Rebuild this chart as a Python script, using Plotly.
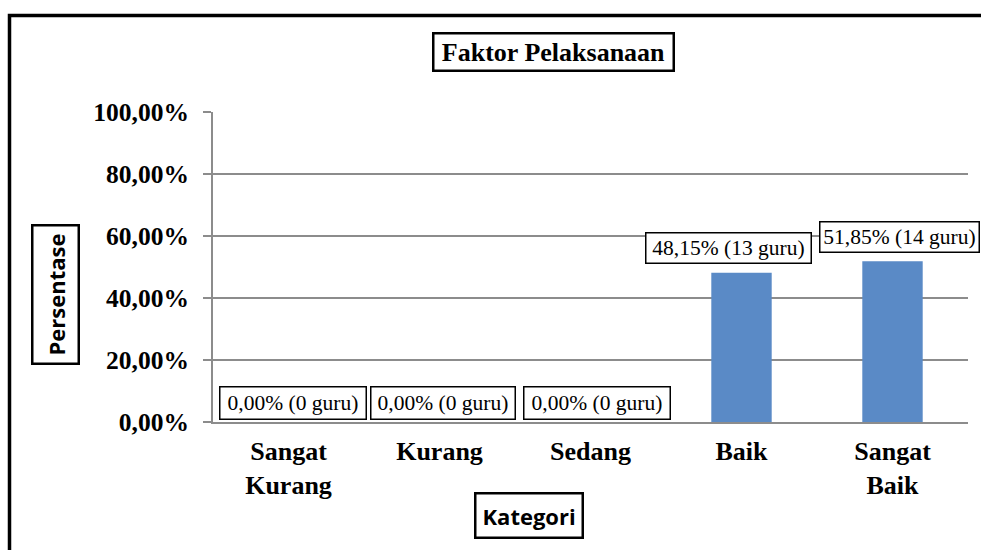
import plotly.graph_objects as go

# ---- data ----
categories = ["Sangat Kurang", "Kurang", "Sedang", "Baik", "Sangat Baik"]
tick_labels = ["Sangat<br>Kurang", "Kurang", "Sedang", "Baik", "Sangat<br>Baik"]
percentages = [0.00, 0.00, 0.00, 48.15, 51.85]
guru_counts = [0, 0, 0, 13, 14]
y_tickvals = [0, 20, 40, 60, 80, 100]
y_ticktext = ["0,00%", "20,00%", "40,00%", "60,00%", "80,00%", "100,00%"]
chart_title = "Faktor Pelaksanaan"
y_title = "Persentase"
x_title = "Kategori"

# ---- layout geometry (pixels) ----
W, H = 981, 550
ML, MR, MT, MB = 213, 13, 112, 128
PW, PH = W - ML - MR, H - MT - MB


def px_x(p):
    return (p - ML) / PW


def px_y(p):
    return (H - MB - p) / PH


SERIF = "Liberation Serif, Times New Roman, serif"
SANS = "Open Sans"
GRID = "#8c8c8c"

fig = go.Figure()
fig.add_trace(go.Bar(
    x=categories,
    y=percentages,
    marker=dict(color="#5a8ac6", line=dict(width=0)),
    width=0.4,
    hoverinfo="skip",
))

# data labels (Excel-style boxed labels); nudges mimic Excel's collision avoidance
label_nudge_x = [4, 3, 6, -13, 7]
label_nudge_y = [2, 2, 2, 9, 8]
label_box_w = [145, 143, 145, 164, 158]
label_box_h = [31, 31, 31, 29, 29]
annotations = []
for cat, pct, n, dx, dy, bw, bh in zip(categories, percentages, guru_counts,
                                        label_nudge_x, label_nudge_y, label_box_w, label_box_h):
    txt = f"{pct:.2f}%".replace(".", ",") + f" ({n} guru)"
    annotations.append(dict(
        x=cat, y=pct, xref="x", yref="y", text=txt, showarrow=False,
        xanchor="center", yanchor="bottom", xshift=dx, yshift=dy,
        width=bw, height=bh, align="center", valign="middle",
        font=dict(family=SERIF, size=21.5, color="black"),
        bordercolor="black", borderwidth=1.5, borderpad=0,
        bgcolor="white",
    ))

# chart title
annotations.append(dict(
    x=px_x(553), y=px_y(52), xref="paper", yref="paper", text=chart_title,
    showarrow=False, xanchor="center", yanchor="middle",
    width=236, height=33, align="center", valign="middle",
    font=dict(family=SERIF, size=26, color="black", weight="bold"),
    bordercolor="black", borderwidth=2.5, borderpad=1, bgcolor="white",
))
# y-axis title
annotations.append(dict(
    x=px_x(55), y=px_y(295), xref="paper", yref="paper", text=f"<b>{y_title}</b>",
    showarrow=False, xanchor="center", yanchor="middle", textangle=-90,
    font=dict(family=SANS, size=22, color="black"),
    bordercolor="black", borderwidth=2.5, borderpad=7, bgcolor="white",
))
# x-axis title
annotations.append(dict(
    x=px_x(529), y=px_y(515), xref="paper", yref="paper", text=f"<b>{x_title}</b>",
    showarrow=False, xanchor="center", yanchor="middle",
    font=dict(family=SANS, size=22, color="black"),
    bordercolor="black", borderwidth=2.5, borderpad=6, bgcolor="white",
))

fig.update_layout(
    width=W, height=H,
    margin=dict(l=ML, r=MR, t=MT, b=MB, pad=0),
    paper_bgcolor="white", plot_bgcolor="white",
    showlegend=False,
    bargap=0.6,
    annotations=annotations,
    shapes=[dict(
        type="rect", xref="paper", yref="paper",
        x0=px_x(9.5), x1=px_x(1000), y0=px_y(580), y1=px_y(15.5),
        line=dict(color="black", width=3.5), fillcolor="rgba(0,0,0,0)", layer="below",
    )],
    xaxis=dict(
        type="category", range=[-0.5, len(categories) - 0.5], autorange=False,
        tickmode="array", tickvals=categories, ticktext=[f"<b>{t}</b>" for t in tick_labels],
        tickfont=dict(family=SERIF, size=26, color="black"),
        showline=True, linecolor=GRID, linewidth=2,
        showgrid=False, ticks="", ticklabelstandoff=5,
        fixedrange=True,
    ),
    yaxis=dict(
        range=[0, 100], autorange=False, tickmode="array", tickvals=y_tickvals,
        ticktext=[f"<b>{t}</b>" for t in y_ticktext],
        tickfont=dict(family=SERIF, size=25.5, color="black"),
        showline=True, linecolor=GRID, linewidth=2,
        showgrid=True, gridcolor=GRID, gridwidth=2,
        zeroline=False,
        ticks="outside", ticklen=8, tickwidth=2, tickcolor=GRID,
        ticklabelstandoff=9,
        fixedrange=True,
    ),
)

fig.write_html(
    "out.html",
    config={"displayModeBar": False},
    post_script="document.body.style.margin='0';document.body.style.overflow='hidden';",
)
